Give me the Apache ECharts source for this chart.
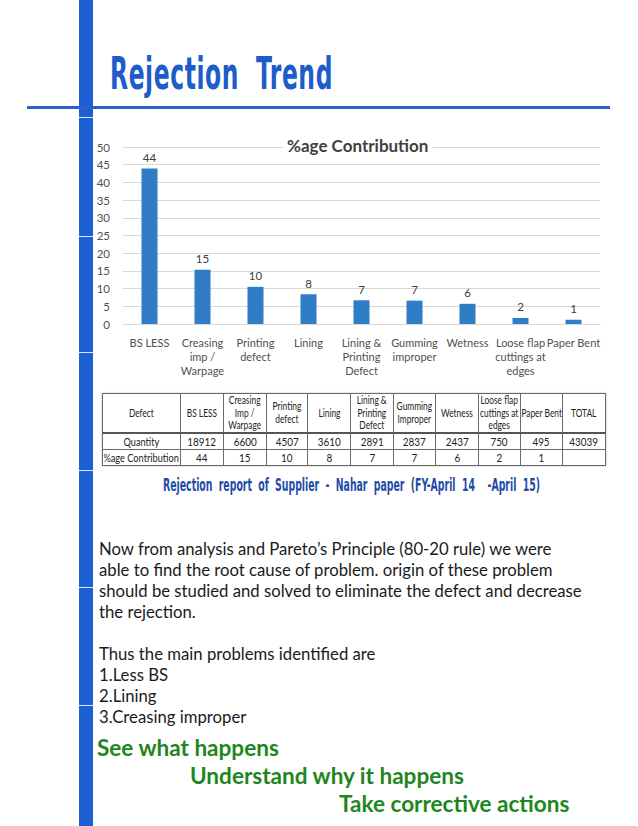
<!DOCTYPE html>
<html>
<head>
<meta charset="utf-8">
<script src="https://cdn.jsdelivr.net/npm/echarts@6.0.0/dist/echarts.min.js"></script>
<style>
  html, body { margin: 0; padding: 0; background: #fff; }
  #page { position: relative; width: 638px; height: 826px; overflow: hidden; background: #fff; }
  .abs { position: absolute; white-space: nowrap; }
  #vbar { left: 79px; top: 0; width: 14px; height: 826px; background: #1B5FD3; }
  .brk { position: absolute; left: 79px; width: 14px; height: 1px; background: rgba(255,255,255,0.85); }
  #hline { left: 27px; top: 106px; width: 583px; height: 3px; background: #2B62C9; }
  #title { left: 110px; top: 52px; font-family: "DejaVu Sans Condensed", "DejaVu Sans", sans-serif; font-weight: bold; font-size: 44px; line-height: 44px; color: #1D5CC9; transform-origin: 0 0; word-spacing: 14px; letter-spacing: 1px; }
  #chart { left: 0; top: 0; width: 638px; height: 385px; }
  #tbl { left: 102px; top: 393px; border-collapse: collapse; table-layout: fixed; font-family: "Lato", sans-serif; color: #222; box-shadow: 0 0 2px #bbb; }
  #tbl td { border: 1px solid #6a6a6a; text-align: center; padding: 0; font-size: 11.5px; line-height: 15px; height: 15px; overflow: visible; }
  #tbl td span { display: inline-block; transform: scaleX(0.86); margin: 0 -14px; }
  #tbl td.first span { transform: scaleX(0.8); }
  #tbl tr.hdr td { font-size: 11px; line-height: 12.5px; height: 37px; border-bottom: 2px solid #555; }
  #tbl tr.hdr td span { transform: scaleX(0.76); }
  #caption { top: 476px; font-family: "DejaVu Sans Condensed", "DejaVu Sans", sans-serif; font-weight: bold; font-size: 17px; line-height: 18px; color: #1F4BA8; transform-origin: 0 0; word-spacing: 5px; }
  .body { left: 99px; font-family: "Lato", "Open Sans", sans-serif; font-size: 16px; line-height: 20px; color: #1a1a1a; }
  .green { font-family: "Lato", "Open Sans", sans-serif; font-weight: bold; font-size: 20px; line-height: 22px; color: #1E861E; }
</style>
</head>
<body>
<div id="page">
  <div id="vbar" class="abs"></div>
  <div id="hline" class="abs"></div>
  <div id="title" class="abs">Rejection Trend</div>
  <div id="chart" class="abs"></div>
  <table id="tbl" class="abs"></table>
  <div id="caption" class="abs">Rejection report of Supplier - Nahar paper (FY-April 14 &nbsp;-April 15)</div>
  <div id="bodytext"></div>
</div>
<script>
// ---- data ----
const categories = ['BS LESS', 'Creasing\nimp /\nWarpage', 'Printing\ndefect', 'Lining', 'Lining &\nPrinting\nDefect', 'Gumming\nimproper', 'Wetness', 'Loose flap\ncuttings at\nedges', 'Paper Bent'];
const contributionValues = [43.9, 15.3, 10.5, 8.4, 6.7, 6.6, 5.7, 1.7, 1.2];
const contributionLabels = [44, 15, 10, 8, 7, 7, 6, 2, 1];
const yTicks = { min: 0, max: 50, interval: 5 };
const tableHeaders = ['Defect', 'BS LESS', 'Creasing\nImp /\nWarpage', 'Printing\ndefect', 'Lining', 'Lining &\nPrinting\nDefect', 'Gumming\nImproper', 'Wetness', 'Loose flap\ncuttings at\nedges', 'Paper Bent', 'TOTAL'];
const quantities = [18912, 6600, 4507, 3610, 2891, 2837, 2437, 750, 495];
const quantityTotal = 43039;
const tablePercent = [44, 15, 10, 8, 7, 7, 6, 2, 1];
const bodyLines = [
  'Now from analysis and Pareto\u2019s Principle (80-20 rule) we were',
  'able to find the root cause of problem. origin of these problem',
  'should be studied and solved to eliminate the defect and decrease',
  'the rejection.',
  '',
  'Thus the main problems identified are',
  '1.Less BS',
  '2.Lining',
  '3.Creasing improper'
];
const greenLines = ['See what happens', 'Understand why it happens', 'Take corrective actions'];

// ---- layout helpers ----
const page = document.getElementById('page');
[117, 236, 352, 470, 587, 705].forEach(y => {
  const d = document.createElement('div'); d.className = 'brk'; d.style.top = y + 'px'; page.appendChild(d);
});
function scaleToWidth(el, w) {
  const m = el.getBoundingClientRect().width;
  el.style.transform = 'scaleX(' + (w / m) + ')';
}
scaleToWidth(document.getElementById('title'), 223);
const cap = document.getElementById('caption');
scaleToWidth(cap, 377);
cap.style.left = '163px';

// table
const tbl = document.getElementById('tbl');
const colW = [78, 43, 43, 41, 43, 43, 42, 43, 42, 42, 43];
function addRow(cells, cls) {
  const tr = document.createElement('tr'); if (cls) tr.className = cls;
  cells.forEach((c, i) => {
    const td = document.createElement('td');
    if (i === 0) td.className = 'first';
    td.style.width = (colW[i] - 1) + 'px';
    const sp = document.createElement('span');
    sp.innerHTML = String(c).split('\n').join('<br>');
    td.appendChild(sp);
    tr.appendChild(td);
  });
  tbl.appendChild(tr);
}
addRow(tableHeaders, 'hdr');
addRow(['Quantity'].concat(quantities, [quantityTotal]));
addRow(['%age Contribution'].concat(tablePercent, ['']));
tbl.style.width = colW.reduce((a, b) => a + b, 0) + 'px';

// body text
const bt = document.getElementById('bodytext');
const bodyY = [539, 560, 581, 602, 623, 644, 665, 686, 707];
const lineEls = [];
bodyLines.forEach((t, i) => {
  const d = document.createElement('div'); d.className = 'abs body';
  d.style.top = bodyY[i] + 'px'; d.textContent = t; bt.appendChild(d); lineEls.push(d);
});
const w3 = lineEls[2].getBoundingClientRect().width;
const fs = 16 * 483 / w3;
lineEls.forEach(d => d.style.fontSize = fs.toFixed(2) + 'px');

const greenPos = [[97, 737], [190, 765], [339, 793]];
const greenEls = [];
greenLines.forEach((t, i) => {
  const d = document.createElement('div'); d.className = 'abs green';
  d.style.left = greenPos[i][0] + 'px'; d.style.top = greenPos[i][1] + 'px';
  d.textContent = t; bt.appendChild(d); greenEls.push(d);
});
const gw = greenEls[1].getBoundingClientRect().width;
const gfs = 20 * 274 / gw;
greenEls.forEach(d => d.style.fontSize = gfs.toFixed(2) + 'px');

// ---- chart ----
const chart = echarts.init(document.getElementById('chart'), null, { renderer: 'svg' });
chart.setOption({
  animation: false,
  title: {
    text: '%age Contribution',
    left: 283, top: 135,
    padding: [2, 4],
    backgroundColor: '#fff',
    textStyle: { fontFamily: 'Lato', fontWeight: 'bold', fontSize: 17, color: '#404040' }
  },
  grid: { left: 123, top: 147, width: 477, height: 177, containLabel: false },
  xAxis: {
    type: 'category',
    data: categories,
    axisLine: { lineStyle: { color: '#d9d9d9' } },
    axisTick: { show: false },
    axisLabel: { interval: 0, margin: 11, fontFamily: 'Lato', fontSize: 11, lineHeight: 14, color: '#505050' }
  },
  yAxis: {
    type: 'value',
    min: yTicks.min, max: yTicks.max, interval: yTicks.interval,
    axisLine: { show: false },
    axisTick: { show: false },
    splitLine: { lineStyle: { color: '#d9d9d9' } },
    axisLabel: { margin: 13, fontFamily: 'Lato', fontSize: 11.5, color: '#505050' }
  },
  series: [{
    type: 'bar',
    data: contributionValues,
    barWidth: 16,
    itemStyle: { color: '#2E7DC5' },
    label: {
      show: true, position: 'top', distance: 5,
      fontFamily: 'Lato', fontSize: 11.5, color: '#404040',
      formatter: p => String(contributionLabels[p.dataIndex])
    }
  }]
});
</script>
</body>
</html>
